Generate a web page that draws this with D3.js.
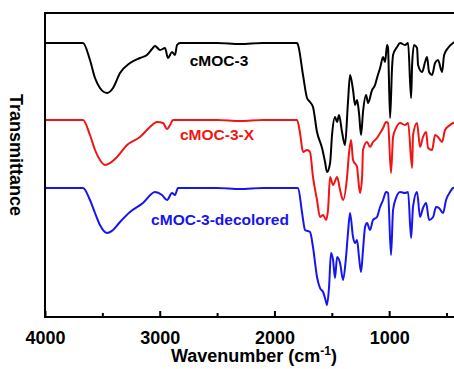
<!DOCTYPE html>
<html><head><meta charset="utf-8">
<script src="https://cdn.jsdelivr.net/npm/d3@7"></script>
<style>body{margin:0;background:#fff}svg{display:block}text{font-family:"Liberation Sans",Arial,sans-serif;font-weight:bold}</style>
</head><body><svg id="c" width="454" height="369"></svg>
<script>
// wavenumber (cm-1), transmittance (arbitrary units, offset stacked)
const xTicks = [4000, 3000, 2000, 1000];
const xMinorTicks = [3500, 2500, 1500, 500];
const seriesNames = ["cMOC-3", "cMOC-3-X", "cMOC-3-decolored"];
const seriesColors = ["#000000", "#f01515", "#1515f0"];

const black = [[4000,274],[3669,274],[3608,257],[3564,239],[3521,229],[3459,224],[3407,229],[3346,244],[3259,254],[3172,259],[3111,262],[3067,268],[3041,271],[2997,267],[2954,269],[2928,259],[2893,265],[2867,262],[2849,272],[2823,274],[2500,274],[2300,273],[2100,274],[1803,274],
[1794,272],[1751,242],[1716,219],[1690,215],[1664,210],[1629,185],[1585,169],[1559,155],[1542,145],[1515,154],[1498,182],[1472,200],[1454,195],[1437,202],[1411,185],[1385,172],[1359,215],[1341,242],[1315,227],[1297,212],[1280,217],[1263,204],[1245,182],[1228,205],[1201,222],[1184,214],[1149,227],[1123,232],[1106,239],[1079,249],[1053,260],[1036,255],[1018,272],[1010,269],[992,199],[975,249],[966,262],[931,270],[905,274],[862,272],[835,274],[809,219],[800,252],[783,272],[757,269],[748,252],[713,245],[687,255],[670,260],[652,245],[626,242],[600,254],[574,257],[539,245],[521,262],[487,269],[443,274],[400,276]];

const red = [[4000,197],[3669,197],[3608,182],[3564,167],[3521,157],[3477,152],[3433,154],[3372,160],[3285,172],[3172,180],[3085,190],[3024,195],[2971,194],[2936,188],[2910,192],[2884,197],[2500,197],[2300,196],[2100,197],[1803,197],
[1777,184],[1751,165],[1716,167],[1690,165],[1664,140],[1629,117],[1603,100],[1576,102],[1550,97],[1533,107],[1515,140],[1489,132],[1454,140],[1428,127],[1402,117],[1367,140],[1350,164],[1332,177],[1315,157],[1280,150],[1271,140],[1254,124],[1236,140],[1228,167],[1193,175],[1167,170],[1141,175],[1106,179],[1079,184],[1053,189],[1027,195],[1010,194],[984,144],[966,180],[940,189],[905,194],[862,192],[835,194],[800,149],[792,182],[757,194],[731,170],[705,180],[678,185],[661,169],[626,167],[600,182],[574,180],[539,175],[513,187],[469,192],[443,194],[400,195]];

const blue = [[4000,129],[3669,129],[3608,117],[3564,104],[3521,92],[3459,84],[3407,87],[3346,95],[3259,105],[3146,114],[3041,125],[2980,122],[2936,117],[2893,124],[2867,122],[2841,129],[2500,129],[2300,128],[2100,129],[1803,129],
[1794,129],[1759,104],[1733,87],[1690,85],[1664,70],[1629,40],[1603,29],[1576,25],[1550,15],[1542,12],[1524,30],[1507,64],[1489,57],[1472,39],[1454,60],[1428,54],[1402,37],[1376,60],[1359,84],[1341,104],[1315,80],[1297,74],[1280,77],[1263,60],[1245,45],[1228,67],[1210,90],[1193,94],[1167,87],[1141,97],[1106,100],[1079,110],[1053,117],[1027,125],[1010,124],[984,62],[966,107],[940,119],[905,125],[862,124],[835,125],[809,79],[792,110],[757,125],[731,100],[705,109],[678,114],[652,97],[617,100],[591,110],[565,109],[530,104],[504,117],[469,125],[443,129],[400,130]];

const series = [black, red, blue];

const svg = d3.select("#c");
const x = d3.scaleLinear().domain([4000, 400]).range([45, 458]);
const y = d3.scaleLinear().domain([0, 304]).range([317, 13]);

const line = d3.line().x(d => x(d[0])).y(d => y(d[1])).curve(d3.curveMonotoneX);

series.forEach((s, i) => {
  svg.append("path").datum(s).attr("d", line)
    .attr("fill", "none").attr("stroke", seriesColors[i])
    .attr("stroke-width", 2).attr("stroke-linejoin", "round");
});

// frame
svg.append("rect").attr("x", 45).attr("y", 13).attr("width", 458 - 45).attr("height", 317 - 13)
  .attr("fill", "none").attr("stroke", "#000").attr("stroke-width", 2);

// bottom axis: ticks inward
const xAxis = d3.axisBottom(x).tickValues(xTicks).tickSize(-6).tickPadding(14).tickFormat(d3.format("d"));
const gx = svg.append("g").attr("transform", "translate(0,317)").call(xAxis);
gx.select(".domain").remove();
gx.selectAll(".tick line").attr("stroke", "#000").attr("stroke-width", 2);
gx.selectAll(".tick text").attr("font-size", 18).attr("fill", "#000")
  .style("font-family", '"Liberation Sans",Arial,sans-serif').style("font-weight", "bold");
const xMinor = d3.axisBottom(x).tickValues(xMinorTicks).tickSize(-4).tickFormat("");
const gm = svg.append("g").attr("transform", "translate(0,317)").call(xMinor);
gm.select(".domain").remove();
gm.selectAll(".tick line").attr("stroke", "#000").attr("stroke-width", 2);

// axis titles
const xt = svg.append("text").attr("x", 254).attr("y", 362).attr("text-anchor", "middle").attr("font-size", 18).attr("fill", "#000");
xt.append("tspan").text("Wavenumber (cm");
xt.append("tspan").text("-1").attr("font-size", 12).attr("dy", -7);
xt.append("tspan").text(")").attr("dy", 7);

svg.append("text").attr("transform", "translate(10,155) rotate(90)")
  .attr("text-anchor", "middle").attr("font-size", 18).attr("fill", "#000").text("Transmittance");

// series labels
const labelPos = [[219, 66], [217, 140], [220, 225]];
seriesNames.forEach((n, i) => {
  svg.append("text").attr("x", labelPos[i][0]).attr("y", labelPos[i][1])
    .attr("text-anchor", "middle").attr("font-size", 15.5).attr("fill", seriesColors[i]).text(n);
});
</script></body></html>
